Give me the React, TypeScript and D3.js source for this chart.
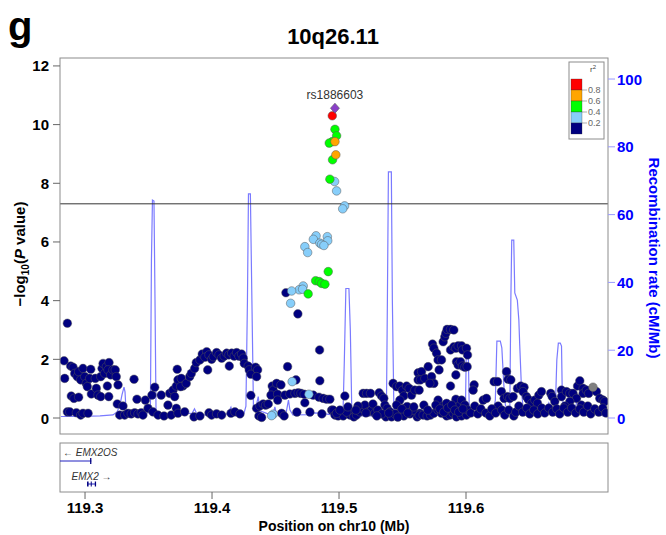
import React from "react";
import * as d3 from "d3";

// LD bins (r^2) -> [position Mb, -log10 P]
const leadSnp: [number, number] = [119.4968, 10.56];
const leadName = "rs1886603";

const redSnps: [number, number][] = [[119.4947, 10.3]];
const orangeSnps: [number, number][] = [
  [119.4968, 9.42],
  [119.4975, 8.97],
];
const greenSnps: [number, number][] = [
  [119.4968, 9.84], [119.4981, 9.62], [119.4947, 9.42], [119.4923, 9.37],
  [119.4949, 8.8], [119.4928, 8.14], [119.4915, 4.99], [119.4816, 4.68],
  [119.4844, 4.65], [119.4863, 4.59], [119.4889, 4.56], [119.4757, 4.23],
];
const lightblueSnps: [number, number][] = [
  [119.4965, 8.06], [119.4981, 7.74], [119.5044, 7.23], [119.5029, 7.13],
  [119.4819, 6.21], [119.4798, 6.09], [119.4908, 6.18], [119.4911, 6.04],
  [119.4849, 5.96], [119.4863, 5.92], [119.4881, 5.88], [119.4731, 5.84],
  [119.4753, 5.64], [119.4718, 4.5], [119.4686, 4.37], [119.4713, 4.39],
  [119.4627, 4.33], [119.4619, 3.91], [119.4631, 1.24], [119.4763, 0.81],
  [119.4482, 0.13], [119.4469, 0.08],
];
const greySnps: [number, number][] = [[119.7, 1.05]];
const navySnps: [number, number][] = [
  [119.2861, 3.23], [119.2835, 1.95], [119.284, 1.35], [119.2887, 1.77], [119.2906, 1.73],
  [119.2919, 1.52], [119.2939, 1.41], [119.295, 1.58], [119.2984, 1.69], [119.2966, 1.3],
  [119.2998, 1.41], [119.301, 1.18], [119.3045, 1.66], [119.3037, 1.35], [119.3018, 1.07],
  [119.305, 0.82], [119.3081, 1.35], [119.3089, 1.01], [119.3102, 0.78], [119.3124, 1.41],
  [119.3134, 1.69], [119.3142, 1.86], [119.3155, 1.52], [119.3168, 1.75], [119.3189, 1.89],
  [119.3181, 1.64], [119.3202, 1.47], [119.322, 1.64], [119.3238, 1.64], [119.3246, 1.41],
  [119.326, 1.13], [119.3176, 1.09], [119.3124, 0.73], [119.3187, 0.73], [119.2892, 0.75],
  [119.2913, 0.67], [119.295, 0.71], [119.2861, 0.21], [119.288, 0.21], [119.2932, 0.18],
  [119.2966, 0.1], [119.2984, 0.16], [119.3024, 0.16], [119.3254, 0.48], [119.3299, 0.41],
  [119.3386, 1.32], [119.3409, 0.64], [119.3273, 0.1], [119.3312, 0.1], [119.3338, 0.16],
  [119.3364, 0.14], [119.3391, 0.18], [119.3417, 0.14], [119.3443, 0.18], [119.3456, 0.1],
  [119.3475, 0.61], [119.3496, 0.33], [119.3527, 0.78], [119.3549, 1.05], [119.3535, 0.21],
  [119.3575, 0.1], [119.36, 0.78], [119.3622, 0.07], [119.3653, 0.44], [119.3667, 0.84],
  [119.3693, 0.95], [119.3706, 0.73], [119.3679, 0.1], [119.3719, 1.09], [119.3732, 1.3],
  [119.3726, 1.66], [119.3758, 1.35], [119.3771, 1.09], [119.3753, 1.07], [119.3797, 1.18],
  [119.3824, 1.41], [119.3837, 1.52], [119.3863, 1.69], [119.3876, 1.89], [119.3719, 0.33],
  [119.3732, 0.16], [119.3785, 0.21], [119.3858, 0.04],
  [119.3905, 1.98], [119.3923, 2.18], [119.3958, 2.26], [119.3944, 2.07], [119.3976, 2.15],
  [119.3997, 2.0], [119.401, 2.09], [119.4036, 2.23], [119.4055, 2.15], [119.4076, 2.04],
  [119.4096, 2.11], [119.4115, 2.21], [119.4133, 2.15], [119.4155, 2.21], [119.4175, 2.11],
  [119.4194, 2.23], [119.4212, 2.11], [119.4233, 2.18], [119.4246, 2.04], [119.4254, 1.86],
  [119.4285, 1.77], [119.4293, 1.64], [119.4306, 1.49], [119.4343, 1.73], [119.4359, 1.64],
  [119.4351, 1.41], [119.3966, 1.64], [119.4136, 1.77], [119.3905, 0.07], [119.3976, 0.18],
  [119.3997, 0.1], [119.4036, 0.14], [119.4076, 0.1], [119.4149, 0.16], [119.418, 0.21],
  [119.422, 0.14], [119.4306, 0.77], [119.4351, 0.33], [119.4377, 0.41], [119.4403, 0.48],
  [119.4422, 0.44], [119.4443, 0.48], [119.4369, 0.07], [119.4391, 0.02], [119.4474, 1.09],
  [119.4482, 0.95], [119.4509, 1.18], [119.4543, 1.13], [119.4464, 0.78], [119.4517, 0.81],
  [119.4574, 0.78], [119.4613, 0.82], [119.4653, 0.84], [119.4679, 0.86], [119.47, 0.84],
  [119.4726, 0.81], [119.4797, 0.78], [119.4842, 0.71], [119.4875, 0.67], [119.4902, 0.64],
  [119.4928, 0.64], [119.4548, 0.16], [119.4568, 0.07], [119.4517, 0.61], [119.4942, 0.27],
  [119.4582, 4.27], [119.4676, 3.55], [119.4847, 2.32], [119.4595, 1.75], [119.4661, 1.3],
  [119.4849, 1.27], [119.4731, 0.52], [119.4771, 0.2], [119.4865, 0.14], [119.4668, 0.2],
  [119.4954, 0.27], [119.5046, 0.75], [119.4968, 0.1], [119.4993, 0.07], [119.5033, 0.07],
  [119.5086, 0.1], [119.5107, 0.18], [119.5117, 0.04], [119.5138, 0.1], [119.5164, 0.21],
  [119.5185, 0.33], [119.5204, 0.44], [119.519, 0.84], [119.5217, 0.84], [119.5248, 0.84],
  [119.523, 0.21], [119.5256, 0.27], [119.5282, 0.16], [119.5316, 0.86], [119.5335, 0.75],
  [119.5353, 0.67], [119.5361, 0.44], [119.5379, 0.33], [119.54, 0.21], [119.5369, 0.04],
  [119.5414, 0.04], [119.5426, 1.18], [119.5453, 1.07], [119.5479, 1.09], [119.55, 0.95],
  [119.5532, 1.09], [119.5552, 1.01], [119.551, 0.75], [119.5479, 0.61], [119.5453, 0.44],
  [119.5485, 0.21], [119.5518, 0.33], [119.5537, 0.39], [119.551, 0.07], [119.5571, 0.78],
  [119.5597, 0.95], [119.5631, 0.95], [119.5615, 0.04], [119.5636, 0.16], [119.5623, 1.54],
  [119.565, 1.58], [119.5623, 1.3], [119.5642, 1.3], [119.5676, 1.35], [119.5702, 1.75],
  [119.5729, 1.41], [119.5747, 1.18], [119.5788, 1.64], [119.5715, 1.18], [119.5736, 2.52],
  [119.5747, 2.38], [119.5768, 2.21], [119.578, 1.98], [119.5807, 1.98], [119.582, 2.6],
  [119.5833, 2.77], [119.5841, 2.89], [119.5851, 3.02], [119.5878, 3.02], [119.5904, 3.0],
  [119.5878, 2.32], [119.5904, 2.43], [119.592, 2.38], [119.5938, 2.46], [119.5965, 2.46],
  [119.5972, 2.32], [119.5925, 1.92], [119.5938, 1.81], [119.5957, 1.92], [119.5972, 1.77],
  [119.5991, 1.73], [119.6009, 1.75], [119.592, 1.47], [119.5878, 1.09], [119.578, 0.61],
  [119.582, 0.41], [119.5847, 0.5], [119.592, 0.64], [119.5946, 0.41], [119.5965, 0.61],
  [119.5991, 0.44], [119.5631, 0.1], [119.5662, 0.1], [119.5694, 0.07], [119.5721, 0.1],
  [119.5747, 0.16], [119.578, 0.27], [119.5807, 0.16], [119.5847, 0.07], [119.5873, 0.1],
  [119.5899, 0.16], [119.5925, 0.04], [119.5965, 0.07], [119.6004, 0.1], [119.4981, 0.16],
  [119.506, 0.2], [119.5149, 0.41], [119.5267, 0.48], [119.5306, 0.27], [119.5337, 0.14],
  [119.544, 0.14], [119.5463, 0.03], [119.5558, 0.14], [119.5581, 0.27],
  [119.6004, 2.38], [119.6012, 2.15], [119.6064, 1.13], [119.6056, 0.95], [119.6135, 0.61],
  [119.6161, 0.67], [119.6221, 1.24], [119.6248, 1.24], [119.6279, 0.9], [119.6253, 0.41],
  [119.63, 0.67], [119.6319, 1.58], [119.6331, 1.32], [119.6353, 1.3], [119.6327, 0.73],
  [119.6345, 0.67], [119.6371, 0.73], [119.6405, 1.01], [119.6431, 1.09], [119.6457, 1.05],
  [119.6449, 0.9], [119.6476, 0.73], [119.6489, 0.64], [119.6516, 0.5], [119.6542, 0.61],
  [119.6573, 0.78], [119.6594, 0.9], [119.6563, 0.5], [119.6667, 0.84], [119.6678, 0.73],
  [119.6699, 0.56], [119.6752, 0.95], [119.6752, 0.73], [119.6791, 0.9], [119.6817, 0.84],
  [119.6843, 0.84], [119.6878, 1.09], [119.6896, 1.27], [119.6922, 1.01], [119.6922, 0.84],
  [119.6948, 0.95], [119.6966, 0.84], [119.7027, 0.9], [119.7053, 0.67], [119.7079, 0.61],
  [119.7092, 0.56], [119.687, 0.67], [119.6909, 0.44], [119.6817, 0.56], [119.6778, 0.41],
  [119.6014, 0.27], [119.6038, 0.17], [119.6069, 0.41], [119.6093, 0.14], [119.6117, 0.31],
  [119.6156, 0.17], [119.6187, 0.07], [119.6203, 0.31], [119.6234, 0.17], [119.6282, 0.27],
  [119.6305, 0.1], [119.6337, 0.27], [119.6376, 0.07], [119.6392, 0.2], [119.6416, 0.41],
  [119.6447, 0.2], [119.6479, 0.34], [119.6502, 0.14], [119.6534, 0.27], [119.6565, 0.14],
  [119.6597, 0.34], [119.662, 0.17], [119.6652, 0.34], [119.6683, 0.2], [119.6715, 0.31],
  [119.6738, 0.14], [119.677, 0.34], [119.6801, 0.2], [119.6833, 0.34], [119.6864, 0.17],
  [119.6896, 0.31], [119.6927, 0.2], [119.6959, 0.41], [119.6982, 0.14], [119.7014, 0.31],
  [119.7045, 0.2], [119.7077, 0.34], [119.7101, 0.17],
  [119.5668, 0.44], [119.5699, 0.27], [119.5762, 0.44], [119.5794, 0.31], [119.5825, 0.2],
  [119.5857, 0.34], [119.5888, 0.44], [119.5912, 0.27], [119.5943, 0.2], [119.5975, 0.31],
  [119.5007, 0.27], [119.507, 0.38], [119.5133, 0.27], [119.5212, 0.17], [119.5298, 0.07],
  [119.5392, 0.17], [119.5495, 0.31], [119.5542, 0.17], [119.5589, 0.38],
];

// recombination rate (cM/Mb)
const recomb: [number, number][] = [
  [119.2811, 0.44], [119.2961, 0.44], [119.3118, 0.6], [119.322, 0.9], [119.3252, 1.8],
  [119.3275, 3.8], [119.3291, 6.8], [119.3307, 9.1], [119.3315, 7.7], [119.3323, 2.1],
  [119.3354, 1.5], [119.3433, 1.3], [119.3496, 1.5], [119.3515, 3.8], [119.3523, 46.6],
  [119.3531, 64.3], [119.3543, 64.0], [119.3551, 34.8], [119.3559, 2.4], [119.359, 0.9],
  [119.3708, 0.7], [119.3756, 1.2], [119.3771, 2.4], [119.3787, 1.5], [119.3842, 1.3],
  [119.3862, 2.7], [119.3881, 1.2], [119.3984, 0.7], [119.4125, 1.2], [119.4149, 3.2],
  [119.4165, 1.0], [119.4251, 1.3], [119.4267, 3.5], [119.4279, 34.8], [119.4287, 66.1],
  [119.4302, 66.1], [119.4314, 34.8], [119.4326, 3.8], [119.4346, 3.2], [119.4364, 6.3],
  [119.4377, 2.1], [119.4456, 1.0], [119.4483, 1.5], [119.4495, 3.3], [119.4507, 1.3],
  [119.4582, 1.2], [119.4602, 5.3], [119.4613, 2.4], [119.4637, 0.9], [119.4771, 1.0],
  [119.481, 1.5], [119.4889, 1.2], [119.5007, 0.6], [119.5031, 0.9], [119.5042, 17.1],
  [119.5054, 38.2], [119.5078, 38.2], [119.5089, 26.0], [119.5101, 1.5], [119.5164, 0.6],
  [119.5322, 0.6], [119.5373, 1.2], [119.5381, 34.8], [119.5389, 72.6], [119.5412, 72.6],
  [119.542, 34.8], [119.5432, 2.4], [119.5471, 1.8], [119.5518, 4.4], [119.5558, 4.1],
  [119.5585, 3.8], [119.5605, 1.5], [119.5715, 1.0], [119.5833, 0.9], [119.5951, 1.2],
  [119.5995, 1.5], [119.6003, 21.5], [119.6017, 21.5], [119.6026, 1.5], [119.6109, 0.9],
  [119.6211, 1.2], [119.6231, 5.3], [119.6243, 22.7], [119.627, 22.7], [119.6282, 20.7],
  [119.6298, 9.7], [119.631, 3.8], [119.6329, 2.4], [119.6345, 3.0], [119.6353, 34.8],
  [119.636, 52.5], [119.6376, 52.5], [119.6384, 36.9], [119.6404, 34.8], [119.6416, 28.9],
  [119.6423, 21.5], [119.6437, 8.3], [119.6451, 2.1], [119.6502, 1.0], [119.662, 1.5],
  [119.6652, 4.4], [119.6675, 1.8], [119.6703, 2.4], [119.6715, 17.1], [119.6727, 22.1],
  [119.6742, 22.1], [119.6752, 21.2], [119.6758, 6.8], [119.677, 1.8], [119.6849, 1.5],
  [119.6872, 4.7], [119.6896, 5.3], [119.6919, 2.4], [119.6974, 1.2], [119.7037, 1.5],
  [119.7077, 0.6], [119.7108, 0.6],
];

const xTicks = [119.3, 119.4, 119.5, 119.6];
const yTicks = [0, 2, 4, 6, 8, 10, 12];
const recTicks = [0, 20, 40, 60, 80, 100];
const sigLine = 7.3;
const ldLabels = [0.8, 0.6, 0.4, 0.2];
const ldColors = ["#FF0000", "#FFA500", "#00FF00", "#87CEFA", "#000080"];

const genes = [
  { name: "EMX2OS", start: 119.27, end: 119.305, strand: -1, exons: [[119.304, 119.305]] },
  { name: "EMX2", start: 119.3016, end: 119.3087, strand: 1, exons: [[119.3016, 119.3028], [119.3045, 119.3053], [119.3077, 119.3087]] },
];

const FONT = "'Liberation Sans', Arial, Helvetica, sans-serif";

const L = 60, R = 608, T = 58, B = 434;
const GT = 443, GB = 492;

export default function App() {
  const x = d3.scaleLinear().domain([119.2803, 119.7118]).range([L, R]);
  const y = d3.scaleLinear().domain([-0.545, 12.27]).range([B, T]);
  const yr = d3.scaleLinear().domain([-4.72, 106.2]).range([B, T]);
  const line = d3
    .line<[number, number]>()
    .x((d) => x(d[0]))
    .y((d) => yr(d[1]));

  const dot = (pts: [number, number][], fill: string, key: string) =>
    pts.map((d, i) => (
      <circle key={key + i} cx={x(d[0])} cy={y(d[1])} r={4.3} fill={fill} stroke="#555" strokeWidth={0.6} strokeOpacity={0.8} />
    ));

  const lx = x(leadSnp[0]), ly = y(leadSnp[1]);
  const diamond = `M${lx},${ly - 5} L${lx + 4.5},${ly} L${lx},${ly + 5} L${lx - 4.5},${ly} Z`;

  // legend
  const legX = 571, legY = 64, segH = 11;

  return (
    <svg width={666} height={535} style={{ position: "absolute", left: 0, top: 0 }} fontFamily={FONT}>
      <rect width={666} height={535} fill="#fff" />
      <text x={8} y={40} fontSize={40} fontWeight="bold">g</text>
      <text x={333} y={44} fontSize={22} fontWeight="bold" textAnchor="middle">10q26.11</text>

      <defs>
        <clipPath id="panel">
          <rect x={L} y={T} width={R - L} height={B - T} />
        </clipPath>
      </defs>

      <g clipPath="url(#panel)">
        <path d={line(recomb) || ""} fill="none" stroke="#4d4dff" strokeOpacity={0.75} strokeWidth={1.2} />
        <line x1={L} x2={R} y1={y(sigLine)} y2={y(sigLine)} stroke="#333" strokeWidth={1} />
        {dot(navySnps, "#000080", "n")}
        {dot(greySnps, "#808080", "g")}
        {dot(lightblueSnps, "#87CEFA", "l")}
        {dot(greenSnps, "#00FF00", "gr")}
        {dot(orangeSnps, "#FFA500", "o")}
        {dot(redSnps, "#FF0000", "r")}
        <path d={diamond} fill="#8A3FC8" stroke="#555" strokeWidth={0.6} />
      </g>
      <text x={lx} y={ly - 9} fontSize={12} textAnchor="middle" fill="#333">{leadName}</text>

      <rect x={L} y={T} width={R - L} height={B - T} fill="none" stroke="#8c8c8c" strokeWidth={1} />

      {/* left axis */}
      {yTicks.map((t) => (
        <g key={"y" + t}>
          <line x1={L - 7} x2={L} y1={y(t)} y2={y(t)} stroke="#666" />
          <text x={L - 11} y={y(t) + 5.5} fontSize={15} fontWeight="bold" textAnchor="end">{t}</text>
        </g>
      ))}
      <text transform={`translate(25,${(T + B) / 2 + 8}) rotate(-90)`} fontSize={15} fontWeight="bold" textAnchor="middle">
        −log<tspan fontSize={10} dy={4}>10</tspan><tspan dy={-4}>(</tspan><tspan fontStyle="italic">P</tspan> value)
      </text>

      {/* right axis */}
      {recTicks.map((t) => (
        <g key={"r" + t}>
          <line x1={R} x2={R + 7} y1={yr(t)} y2={yr(t)} stroke="#9999ff" />
          <text x={R + 9} y={yr(t) + 5.5} fontSize={15} fontWeight="bold" fill="#0000FF">{t}</text>
        </g>
      ))}
      <text transform={`translate(649,${(T + B) / 2 + 12}) rotate(90)`} fontSize={15} fontWeight="bold" textAnchor="middle" fill="#0000FF">
        Recombination rate (cM/Mb)
      </text>

      {/* legend */}
      <rect x={legX - 2} y={legY - 2} width={35} height={segH * 5 + 22} fill="#fff" stroke="#8c8c8c" />
      <text x={legX + 19} y={legY + 8} fontSize={8} fill="#444">r<tspan fontSize={6} dy={-3}>2</tspan></text>
      {ldColors.map((c, i) => (
        <rect key={c} x={legX} y={legY + 15 + i * segH} width={11} height={segH} fill={c} stroke="#333" strokeWidth={0.3} />
      ))}
      {ldLabels.map((v, i) => (
        <g key={"ld" + v}>
          <line x1={legX + 11} x2={legX + 16} y1={legY + 15 + (i + 1) * segH} y2={legY + 15 + (i + 1) * segH} stroke="#777" strokeWidth={0.6} />
          <text x={legX + 17} y={legY + 18 + (i + 1) * segH} fontSize={9} fill="#666">{v}</text>
        </g>
      ))}

      {/* gene panel */}
      <rect x={L} y={GT} width={R - L} height={GB - GT} fill="none" stroke="#8c8c8c" />
      <g clipPath="url(#genes)">
        <clipPath id="genes">
          <rect x={L} y={GT} width={R - L} height={GB - GT} />
        </clipPath>
        <line x1={x(genes[0].start)} x2={x(genes[0].end)} y1={461} y2={461} stroke="#2020c0" strokeWidth={1} />
        {genes[0].exons.map((e, i) => (
          <rect key={"e0" + i} x={x(e[0])} y={458} width={x(e[1]) - x(e[0])} height={6} fill="#000080" />
        ))}
        <line x1={x(genes[1].start)} x2={x(genes[1].end)} y1={484} y2={484} stroke="#2020c0" strokeWidth={1} />
        {genes[1].exons.map((e, i) => (
          <rect key={"e1" + i} x={x(e[0])} y={481.5} width={x(e[1]) - x(e[0])} height={5} fill="#000080" />
        ))}
      </g>
      <text x={L + 3} y={456} fontSize={10} fill="#333">← <tspan fontStyle="italic">{genes[0].name}</tspan></text>
      <text x={(x(genes[1].start) + x(genes[1].end)) / 2} y={480} fontSize={10} fill="#333" textAnchor="middle">
        <tspan fontStyle="italic">{genes[1].name}</tspan> →
      </text>

      {/* bottom axis */}
      {xTicks.map((t) => (
        <g key={"x" + t}>
          <line x1={x(t)} x2={x(t)} y1={GB} y2={GB + 7} stroke="#666" />
          <text x={x(t)} y={513} fontSize={15} fontWeight="bold" textAnchor="middle">{t.toFixed(1)}</text>
        </g>
      ))}
      <text x={(L + R) / 2} y={531} fontSize={14} fontWeight="bold" textAnchor="middle">Position on chr10 (Mb)</text>
    </svg>
  );
}
